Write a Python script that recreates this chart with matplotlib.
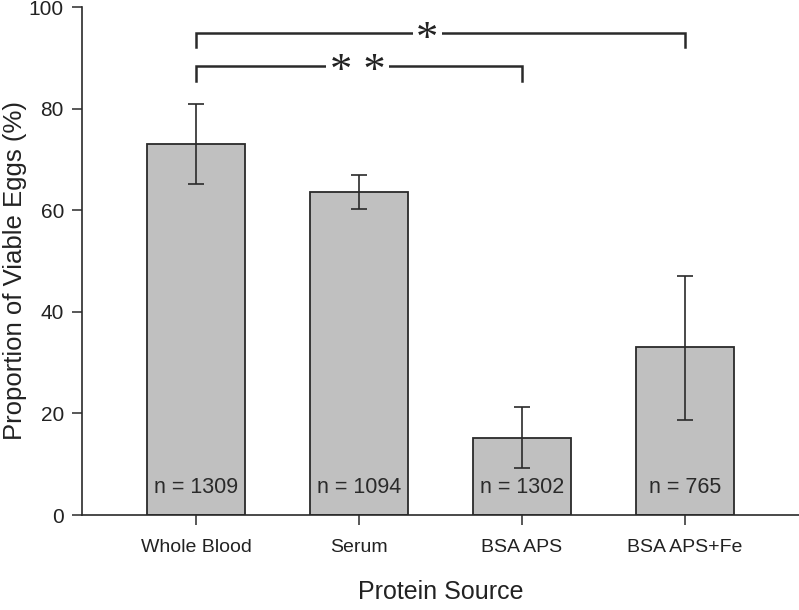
import matplotlib.pyplot as plt

plt.rcParams['font.family'] = ['Liberation Sans', 'DejaVu Sans']

# datos
sources = ["Whole Blood", "Serum", "BSA APS", "BSA APS+Fe"]
viable = [73.1, 63.6, 15.2, 33.0]
err_low = [7.9, 3.4, 6.0, 14.2]
err_high = [7.8, 3.3, 6.0, 14.1]
n_labels = ["n = 1309", "n = 1094", "n = 1302", "n = 765"]

fig = plt.figure(figsize=(7.99, 6.10), dpi=100)
ax = fig.add_axes([0.1026, 0.1557, 0.8974, 0.8328])

x = list(range(len(sources)))
ax.bar(x, viable, width=0.6, color="#c0c0c0", edgecolor="#2a2a2a", linewidth=1.3, zorder=2)
ax.errorbar(x, viable, yerr=[err_low, err_high], fmt="none", ecolor="#2a2a2a",
            elinewidth=1.2, capsize=6, capthick=1.2, zorder=3)

for xi, lab in zip(x, n_labels):
    ax.text(xi, 3.3, lab, ha="center", va="bottom", fontsize=15.5, color="#2a2a2a")

# corchetes de significancia
def bracket(x1, x2, y, drop, star_x, label):
    ax.plot([x1, x1, x2, x2], [y - drop, y, y, y - drop], color="#2a2a2a",
            linewidth=1.8, solid_joinstyle="miter", clip_on=False, zorder=2)
    ax.text(star_x, y - 1.2, label, ha="center", va="center", fontsize=32,
            family="Liberation Serif", color="#222222", zorder=3,
            bbox=dict(boxstyle="square,pad=0.08", fc="white", ec="none"))

bracket(0, 3, 94.8, 2.7, 1.42, "*")
bracket(0, 2, 88.4, 2.9, 0.99, "* *")

ax.set_xlim(-0.7, 3.7)
ax.set_ylim(0, 100)
ax.set_yticks([0, 20, 40, 60, 80, 100])
ax.set_xticks(x)
ax.set_xticklabels(sources, fontsize=14)
ax.tick_params(axis="y", labelsize=15, length=7, width=1.1, color="#2a2a2a", pad=6,
               labelcolor="#222222")
ax.tick_params(axis="x", length=7, width=1.1, color="#2a2a2a", pad=10, labelcolor="#222222")
ax.spines["top"].set_visible(False)
ax.spines["right"].set_visible(False)
ax.spines["left"].set_color("#2a2a2a")
ax.spines["bottom"].set_color("#2a2a2a")
ax.spines["left"].set_linewidth(1.2)
ax.spines["bottom"].set_linewidth(1.2)

ax.set_ylabel("Proportion of Viable Eggs (%)", fontsize=18.5, color="#222222")
ax.yaxis.set_label_coords(-0.077, 0.482)
ax.set_xlabel("Protein Source", fontsize=18, color="#222222")
ax.xaxis.set_label_coords(0.5, -0.128)

fig.savefig("out.png", dpi=100)
